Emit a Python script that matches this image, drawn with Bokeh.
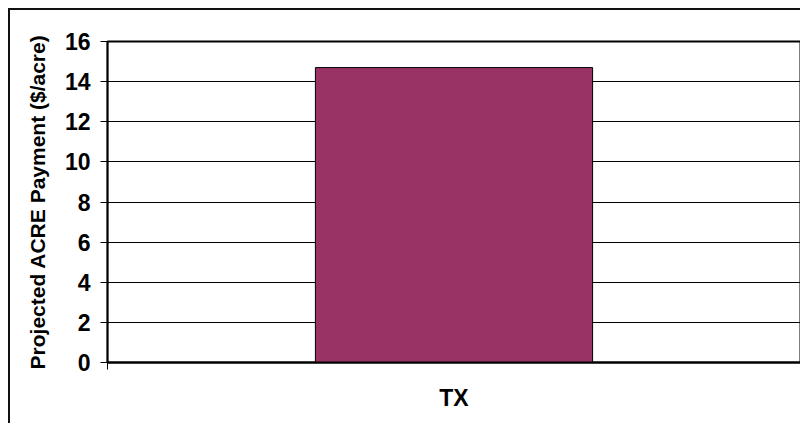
from bokeh.plotting import figure
from bokeh.models import FixedTicker, Range1d
from bokeh.embed import file_html
from bokeh.resources import INLINE

# Projected ACRE payment by state
categories = ["TX"]
payments = [14.7]
y_ticks = [0, 2, 4, 6, 8, 10, 12, 14, 16]

FONT = "Liberation Sans"

x_pos = [i + 0.5 for i in range(len(categories))]

p = figure(
    width=792, height=415,
    output_backend="svg", toolbar_location=None,
    x_range=Range1d(0, len(categories)), y_range=Range1d(0, 16),
    min_border_left=97, min_border_right=2, min_border_top=31, min_border_bottom=63,
    margin=(8, 0, 0, 8),
    styles={"border-left": "2px solid #111", "border-top": "2px solid #111"},
    background_fill_color="white", border_fill_color="white",
)

p.vbar(x=x_pos, top=payments, width=0.4, fill_color="#993366",
       line_color="black", line_width=1)

p.outline_line_color = "black"
p.outline_line_width = 2

# y axis
p.yaxis.ticker = FixedTicker(ticks=y_ticks)
p.yaxis.axis_label = "Projected ACRE Payment ($/acre)"
p.yaxis.axis_label_text_font = FONT
p.yaxis.axis_label_text_font_style = "bold"
p.yaxis.axis_label_text_font_size = "21px"
p.yaxis.axis_label_text_color = "black"
p.yaxis.axis_label_standoff = 13
p.yaxis.major_label_text_font = FONT
p.yaxis.major_label_text_font_style = "bold"
p.yaxis.major_label_text_font_size = "23px"
p.yaxis.major_label_text_color = "black"
p.yaxis.major_label_standoff = 10
p.yaxis.major_tick_in = 0
p.yaxis.major_tick_out = 7
p.yaxis.major_tick_line_color = "black"
p.yaxis.minor_tick_line_color = None
p.yaxis.axis_line_color = "black"
p.yaxis.axis_line_width = 1.5

# x axis: category label centred, tick marks at category boundaries
p.xaxis.ticker = FixedTicker(ticks=x_pos, minor_ticks=list(range(len(categories) + 1)))
p.xaxis.major_label_overrides = {xp: c for xp, c in zip(x_pos, categories)}
p.xaxis.major_label_text_font = FONT
p.xaxis.major_label_text_font_style = "bold"
p.xaxis.major_label_text_font_size = "23px"
p.xaxis.major_label_text_color = "black"
p.xaxis.major_tick_line_color = None
p.xaxis.major_tick_in = 0
p.xaxis.major_tick_out = 0
p.xaxis.major_label_standoff = 15
p.xaxis.minor_tick_in = 0
p.xaxis.minor_tick_out = 7
p.xaxis.minor_tick_line_color = "black"
p.xaxis.axis_line_color = "black"
p.xaxis.axis_line_width = 2

p.ygrid.ticker = FixedTicker(ticks=y_ticks)
p.ygrid.grid_line_color = "black"
p.ygrid.grid_line_width = 1
p.xgrid.visible = False

open("out.html", "w").write(file_html(p, INLINE))
